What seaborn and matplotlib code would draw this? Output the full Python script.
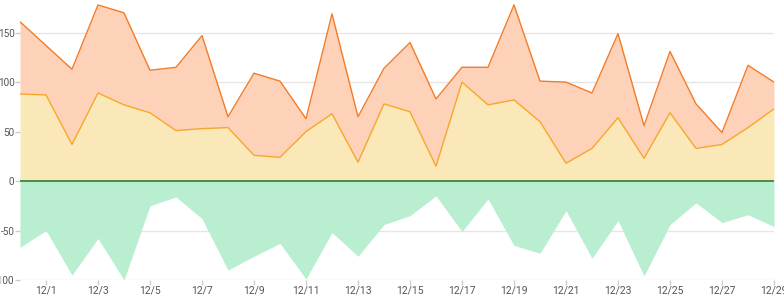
import matplotlib
matplotlib.use("Agg")
import matplotlib.pyplot as plt
import matplotlib.dates as mdates
import matplotlib.ticker as mticker
import seaborn as sns
import pandas as pd
import numpy as np

dates = pd.date_range("2023-11-30", "2023-12-29", freq="D")
series_a = [88, 87, 37, 89, 77, 69, 51, 53, 54, 26, 24, 50, 68, 19, 78,
            70, 15, 100, 77, 82, 60, 18, 33, 64, 23, 69, 33, 37, 54, 73]
series_b = [73, 50, 76, 89, 93, 43, 64, 94, 11, 83, 77, 13, 101, 46, 36,
            70, 68, 15, 38, 96, 41, 82, 56, 85, 33, 62, 45, 12, 63, 27]
series_c = [-67, -50, -95, -58, -100, -25, -16, -38, -90, -76, -63, -99, -52, -76, -44,
            -35, -15, -51, -18, -65, -73, -30, -78, -40, -96, -44, -22, -42, -34, -46]
y_ticks = [-100, -50, 0, 50, 100, 150]

sns.set_theme(style="white")
plt.rcParams["font.family"] = ["Roboto", "DejaVu Sans"]
plt.rcParams["axes.unicode_minus"] = False

df = pd.DataFrame({"date": dates, "a": series_a, "b": series_b, "c": series_c})
df["top"] = df["a"] + df["b"]

fig = plt.figure(figsize=(7.84, 3.0), dpi=100)
ax = fig.add_axes([20 / 784, 20 / 300, 754 / 784, 280 / 300])

ax.fill_between(df["date"], 0, df["c"], color="#b9efd0", lw=0, zorder=2)
ax.fill_between(df["date"], 0, df["a"], color="#fae8b9", lw=0, zorder=2)
ax.fill_between(df["date"], df["a"], df["top"], color="#fdd2b8", lw=0, zorder=2)
sns.lineplot(data=df, x="date", y="a", ax=ax, color="#f7a82a", lw=1.0, zorder=3)
sns.lineplot(data=df, x="date", y="top", ax=ax, color="#f47b28", lw=1.0, zorder=3)
ax.axhline(0, color="#2e7d32", lw=1.2, zorder=4)

ax.set_xlim(dates[0], dates[-1])
ax.set_ylim(-100, 183)
ax.set_yticks(y_ticks)
ax.yaxis.grid(True, color="#e6e6e6", lw=1, zorder=1)
ax.set_axisbelow(True)

ax.xaxis.set_major_locator(mdates.DayLocator(bymonthday=range(1, 32, 2)))
ax.xaxis.set_major_formatter(mticker.FuncFormatter(
    lambda v, p: f"{mdates.num2date(v).month}/{mdates.num2date(v).day}"))

for s in ax.spines.values():
    s.set_visible(False)
ax.tick_params(axis="both", which="major", length=3.5, width=1, color="#cccccc",
               labelcolor="#555555", labelsize=7.5, pad=0.8, bottom=True, left=True)
ax.tick_params(axis="y", labelsize=7.2, pad=0.4)
ax.set_xlabel("")
ax.set_ylabel("")

fig.savefig("out.png", dpi=100)
